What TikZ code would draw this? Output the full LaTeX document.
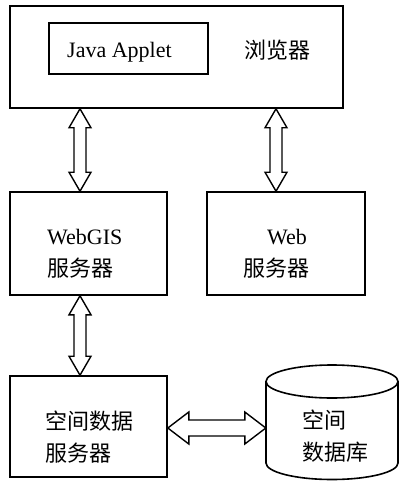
\documentclass[tikz,border=0pt]{standalone}
\usepackage{fontspec}
\setmainfont{Liberation Serif}
\newfontfamily\cjk{Noto Sans CJK SC}
\usetikzlibrary{calc}

% hollow double-headed block arrows between two points
\newcommand\vflow[2]{%
  \draw[flow] let \p1=(#1), \p2=(#2) in
    (\x1,\y1) -- (\x1+11pt,\y1-19pt) -- (\x1+6pt,\y1-19pt) -- (\x1+6pt,\y2+19pt)
    -- (\x1+11pt,\y2+19pt) -- (\x1,\y2) -- (\x1-11pt,\y2+19pt) -- (\x1-6pt,\y2+19pt)
    -- (\x1-6pt,\y1-19pt) -- (\x1-11pt,\y1-19pt) -- cycle;}
\newcommand\hflow[2]{%
  \draw[flow] let \p1=(#1), \p2=(#2) in
    (\x1,\y1) -- (\x1+21pt,\y1+16pt) -- (\x1+21pt,\y1+8pt) -- (\x2-21pt,\y1+8pt)
    -- (\x2-21pt,\y1+16pt) -- (\x2,\y1) -- (\x2-21pt,\y1-16pt) -- (\x2-21pt,\y1-8pt)
    -- (\x1+21pt,\y1-8pt) -- (\x1+21pt,\y1-16pt) -- cycle;}

\begin{document}
\begin{tikzpicture}[x=1pt,y=-1pt,
  box/.style={draw, line width=1.6pt, inner sep=0pt},
  lbl/.style={font=\fontsize{22}{32}\selectfont, align=left, inner sep=0pt},
  flow/.style={draw, line width=1.4pt, line join=miter, fill=white}]
\useasboundingbox (0,0) rectangle (400,481);

% boxes
\node[box, minimum width=333pt, minimum height=102pt] (browser) at (176.5,57) {};
\node[box, minimum width=159pt, minimum height=51pt] (applet) at (128.5,48.5) {};
\node[box, minimum width=157pt, minimum height=103pt] (webgis) at (88.5,243.5) {};
\node[box, minimum width=158pt, minimum height=103pt] (web) at (286,243.5) {};
\node[box, minimum width=157pt, minimum height=101pt] (spatial) at (88.5,426.5) {};

% database cylinder
\node[minimum width=132pt, minimum height=115pt, inner sep=0pt] (db) at (332,422.5) {};
\draw[line width=1.6pt] (266,381.5) -- (266,463)
  arc[start angle=180, end angle=360, x radius=66pt, y radius=16.5pt] -- (398,381.5);
\draw[line width=1.6pt] (332,381.5) ellipse [x radius=66pt, y radius=16.5pt];

% labels
\node[lbl, anchor=base west] (applet-text) at (67,57.5) {Java Applet};
\node[lbl] (browser-text) at (277.5,50.5) {\cjk 浏览器};
\node[lbl, anchor=west] (webgis-text) at (47,254) {WebGIS\\{\cjk 服务器}};
\node[lbl, anchor=west] (web-text) at (243,254) {\hspace*{24pt}Web\\{\cjk 服务器}};
\node[lbl, anchor=west] (spatial-text) at (45,437) {\cjk 空间数据\\\cjk 服务器};
\node[lbl, anchor=west] (db-text) at (302,436) {\cjk 空间\\\cjk 数据库};

% connectors
\coordinate (colL) at (80,0);
\coordinate (colR) at (276,0);
\coordinate (rowH) at (0,428);
\vflow{colL |- browser.south}{colL |- webgis.north}
\vflow{colR |- browser.south}{colR |- web.north}
\vflow{colL |- webgis.south}{colL |- spatial.north}
\hflow{spatial.east |- rowH}{db.west |- rowH}
\end{tikzpicture}
\end{document}
